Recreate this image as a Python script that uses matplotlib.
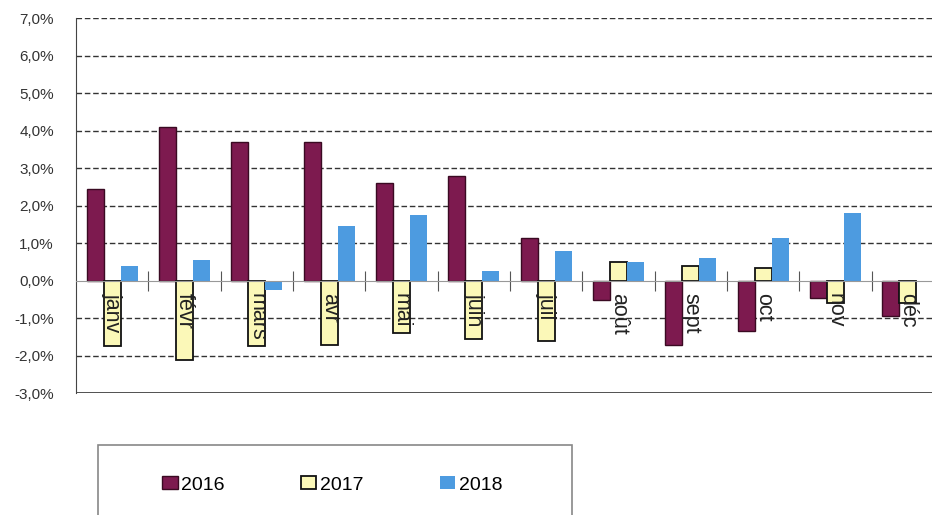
import numpy as np
import matplotlib
matplotlib.use('Agg')
import matplotlib.pyplot as plt
from matplotlib.patches import Rectangle
from matplotlib.ticker import FixedLocator, FuncFormatter

plt.rcParams['font.family'] = ['Liberation Sans', 'DejaVu Sans']

# data (monthly change, %)
months = ['janv', 'févr', 'mars', 'avr', 'mai', 'juin', 'juil', 'août', 'sept', 'oct', 'nov', 'déc']
v2016 = [2.45, 4.1, 3.7, 3.7, 2.6, 2.8, 1.15, -0.5, -1.7, -1.35, -0.45, -0.95]
v2017 = [-1.75, -2.1, -1.75, -1.7, -1.4, -1.55, -1.6, 0.5, 0.4, 0.35, -0.6, -0.6]
v2018 = [0.4, 0.55, -0.25, 1.45, 1.75, 0.25, 0.8, 0.5, 0.6, 1.15, 1.8, 0.0]
years = ['2016', '2017', '2018']

c16 = '#7d1a4f'
c17 = '#fbf8b8'
c18 = '#4d9be0'

fig = plt.figure(figsize=(9.32, 5.15), dpi=100)
ax = fig.add_axes([76/932, (515-393.3)/515, 868/932, 375/515])

x = np.arange(len(months))
w = 0.235
ax.bar(x - w, v2016, w, color=c16, edgecolor='#3a0a22', linewidth=1.0, label=years[0], zorder=1)
ax.bar(x, v2017, w, color=c17, edgecolor='#111111', linewidth=1.3, label=years[1], zorder=1)
ax.bar(x + w, v2018, w, color=c18, linewidth=0, label=years[2], zorder=1)

ax.set_xlim(-0.5, 11.5)
ax.set_ylim(-3, 7)
yt = np.arange(-3, 8)
ax.set_yticks(yt)
ax.yaxis.set_major_formatter(FuncFormatter(lambda v, p: ('%.1f%%' % v).replace('.', ',')))
ax.tick_params(axis='y', length=0, pad=16, labelsize=11, labelcolor='#333333')

# dashed grid drawn under the bars
for y in yt:
    if y == 0:
        continue
    if y == -3:
        ax.axhline(y, color='#222222', lw=1.1, zorder=0.5)
    else:
        ax.axhline(y, color='#333333', lw=1.0, ls=(0, (4, 2)), zorder=0.5)

for s in ['top', 'right']:
    ax.spines[s].set_visible(False)
ax.spines['left'].set_color('#444444')
ax.spines['bottom'].set_position(('data', 0))
ax.spines['bottom'].set_color('#999999')

ax.xaxis.set_major_locator(FixedLocator(x[:-1] + 0.5))
ax.xaxis.set_major_formatter(FuncFormatter(lambda v, p: ''))
ax.xaxis.set_minor_locator(FixedLocator(x))
ax.set_xticklabels(months, minor=True)
ax.tick_params(axis='x', which='major', direction='inout', length=14, color='#555555')
ax.tick_params(axis='x', which='minor', length=0, pad=9, labelsize=15.5, labelrotation=-90, labelcolor='#222222')
for t in ax.get_xticklabels(minor=True):
    t.set_verticalalignment('top')
    t.set_horizontalalignment('center')

# legend box (cut off by the bottom edge like the original)
fig.add_artist(Rectangle((98/932, -0.1), (572-98)/932, (515-445)/515 + 0.1,
                         transform=fig.transFigure, fill=False, edgecolor='#888888', lw=1.2))
fig.legend(loc='center left', bbox_to_anchor=(162/932, 1 - 485/515), ncol=3, frameon=False,
           fontsize=14, handlelength=0.8, handleheight=0.6, handletextpad=0.2,
           columnspacing=3.9, borderpad=0, borderaxespad=0)

fig.savefig('out.png', dpi=100)
